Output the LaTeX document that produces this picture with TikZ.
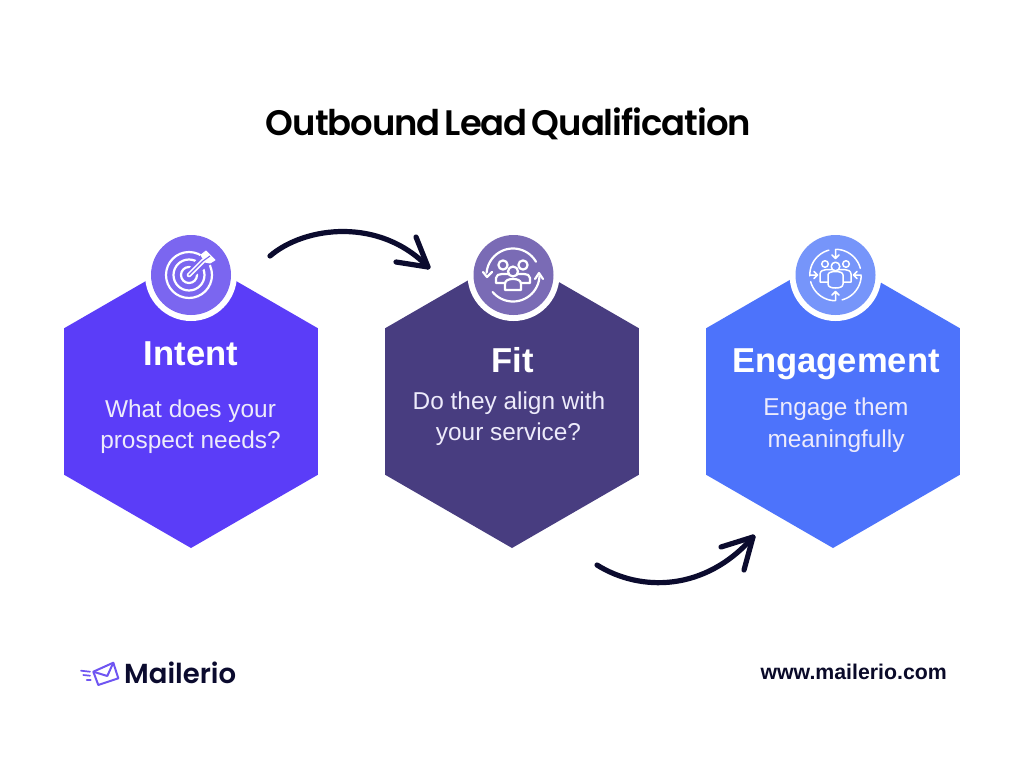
\documentclass[tikz,border=0pt]{standalone}
\usepackage{fontspec}
\usetikzlibrary{shapes.geometric}
\setmainfont{Liberation Sans}
\newfontfamily\titlefont[LetterSpace=-3.0,WordSpace=0.55]{Poppins SemiBold}
\newfontfamily\logofont{Poppins SemiBold}
\definecolor{inkc}{HTML}{0B0B2E}
\definecolor{hexa}{HTML}{5B3DF8}
\definecolor{hexb}{HTML}{483D80}
\definecolor{hexc}{HTML}{4D73FB}
\definecolor{cira}{HTML}{7B66F0}
\definecolor{cirb}{HTML}{7A6BB5}
\definecolor{circ}{HTML}{7695FA}
\definecolor{bodyc}{HTML}{EDEBFB}
\definecolor{logop}{HTML}{6F55F2}
\tikzset{
  x=1pt,y=-1pt,
  hexnode/.style={regular polygon,regular polygon sides=6,shape border rotate=30,minimum size=293pt,inner sep=0pt,outer sep=0pt,draw=none},
  ringnode/.style={circle,fill=white,minimum size=92pt,inner sep=0pt},
  discnode/.style={circle,minimum size=80pt,inner sep=0pt},
  headtext/.style={anchor=base,text=white,font=\fontsize{34.6}{34.6}\selectfont\bfseries,inner sep=0pt},
  bodytext/.style={anchor=base,text=bodyc,font=\fontsize{24.4}{24.4}\selectfont,inner sep=0pt},
  flow/.style={draw=inkc,line width=5.2pt,line cap=round,line join=round},
  iconline/.style={draw=white,line width=2.2pt,line cap=round,line join=round},
  iconthin/.style={draw=white,line width=1.5pt,line cap=round,line join=round},
}
\begin{document}
\begin{tikzpicture}
\useasboundingbox (0,0) rectangle (1024,768);
\fill[white] (0,0) rectangle (1024,768);

\node[anchor=base,inner sep=0pt,text=black] (title) at (508.5,135) {\titlefont\fontsize{35.4}{35.4}\selectfont Outbound Lead Qualification};

% hexagons
\node[hexnode,fill=hexa] (hexA) at (191,401.5) {};
\node[hexnode,fill=hexb] (hexB) at (512,401.5) {};
\node[hexnode,fill=hexc] (hexC) at (833,401.5) {};

% badges
\node[ringnode] (ringA) at (191,275) {};
\node[discnode,fill=cira] (discA) at (191,275) {};
\node[ringnode] (ringB) at (513.5,275) {};
\node[discnode,fill=cirb] (discB) at (513.5,275) {};
\node[ringnode] (ringC) at (835.5,275) {};
\node[discnode,fill=circ] (discC) at (835.5,275) {};

% texts
\node[headtext] (headA) at (191,365) {Intent};
\node[bodytext] (bodyA1) at (190.5,417) {What does your};
\node[bodytext] (bodyA2) at (190.5,448) {prospect needs?};
\node[headtext] (headB) at (512.5,372) {Fit};
\node[bodytext] (bodyB1) at (509,409) {Do they align with};
\node[bodytext] (bodyB2) at (508.5,440) {your service?};
\node[headtext] (headC) at (836,372) {Engagement};
\node[bodytext] (bodyC1) at (836,415) {Engage them};
\node[bodytext] (bodyC2) at (836,447) {meaningfully};

% connectors
\coordinate (arrA) at (270,256);
\coordinate (arrB) at (428,267);
\coordinate (arrBa) at (396,262);
\coordinate (arrBb) at (416,237);
\draw[flow] (arrA) .. controls (305,226) and (380,217) .. (arrB);
\draw[flow] (arrBa) -- (arrB) -- (arrBb);
\coordinate (arrC) at (597,565);
\coordinate (arrD) at (753,537);
\coordinate (arrDa) at (721,547);
\coordinate (arrDb) at (744,570);
\draw[flow] (arrC) .. controls (640,592) and (705,592) .. (arrD);
\draw[flow] (arrDa) -- (arrD) -- (arrDb);

% target icon
\begin{scope}[shift={(189,275)}]
  \draw[iconline] (0,0) circle (23);
  \draw[iconline] (0,0) circle (15.5);
  \draw[iconline] (0,0) circle (8);
  \fill[cira] (-2,-4) -- (11,-19) -- (17,-27) -- (29,-15) -- (19,-9) -- (4,2) -- cycle;
  \draw[iconline,line width=4.6pt] (0,0) -- (14,-14);
  \draw[cira,line width=1.3pt,line cap=round] (0,0) -- (14,-14);
  \fill[white,draw=white,line width=1pt,line join=round] (12,-20) -- (17,-24) -- (21,-20) -- (26,-15) -- (21,-12) -- (16,-13) -- cycle;
  \draw[cira,line width=1.1pt] (14,-14) -- (21,-19);
\end{scope}

% team cycle icon
\begin{scope}[shift={(513,275)}]
  \draw[iconline] plot[domain=30:175,samples=40] ({26.5*cos(\x)},{-26.5*sin(\x)});
  \draw[iconline] plot[domain=-3:-140,samples=40] ({26.5*cos(\x)},{-26.5*sin(\x)});
  \draw[iconline] (-30,-3) -- (-26,2) -- (-21,-3);
  \draw[iconline] (22,4) -- (26,-2) -- (30,4);
  \draw[iconline,fill=cirb] (-10,-10) circle (4.6);
  \draw[iconline,fill=cirb] (10,-10) circle (4.6);
  \draw[iconline,fill=cirb] (-17,8) -- (-17,3) .. controls (-17,0) and (-14,-1) .. (-11,-1) -- (11,-1) .. controls (14,-1) and (17,0) .. (17,3) -- (17,8) -- cycle;
  \draw[iconline,fill=cirb] (0,-3.5) circle (5);
  \draw[iconline,fill=cirb] (-8,15) -- (-8,9) .. controls (-8,5) and (-4,4) .. (0,4) .. controls (4,4) and (8,5) .. (8,9) -- (8,15) -- cycle;
\end{scope}

% engagement icon
\begin{scope}[shift={(835.5,275)}]
  \draw[iconthin] plot[domain=88:15,samples=30] ({25.7*cos(\x)},{-25.7*sin(\x)});
  \draw[iconthin] plot[domain=-2:-75,samples=30] ({25.7*cos(\x)},{-25.7*sin(\x)});
  \draw[iconthin] plot[domain=-92:-165,samples=30] ({25.7*cos(\x)},{-25.7*sin(\x)});
  \draw[iconthin] plot[domain=182:105,samples=30] ({25.7*cos(\x)},{-25.7*sin(\x)});
  % arrow stems
  \draw[iconthin] (0,-25.7) -- (0,-16.5) (-3.5,-20) -- (0,-16.5) -- (3.5,-20);
  \draw[iconthin] (0,25.7) -- (0,16.5) (-3.5,20) -- (0,16.5) -- (3.5,20);
  \draw[iconthin] (-25.7,0) -- (-18,0) (-21.5,-3.5) -- (-18,0) -- (-21.5,3.5);
  \draw[iconthin] (25.7,0) -- (18,0) (21.5,-3.5) -- (18,0) -- (21.5,3.5);
  % people
  \draw[iconthin,fill=circ] (-10.5,-11) circle (3.3);
  \draw[iconthin,fill=circ] (10.5,-11) circle (3.3);
  \draw[iconthin,fill=circ] (-15.5,7) -- (-15.5,-1) .. controls (-15.5,-4) and (-12,-5.5) .. (-9,-5.5) -- (9,-5.5) .. controls (12,-5.5) and (15.5,-4) .. (15.5,-1) -- (15.5,7) -- cycle;
  \draw[iconthin,fill=circ] (0,-8.5) circle (4.3);
  \draw[iconthin,fill=circ] (-7.5,9) -- (-7.5,0) .. controls (-7.5,-2.5) and (-4,-3.5) .. (0,-3.5) .. controls (4,-3.5) and (7.5,-2.5) .. (7.5,0) -- (7.5,9) .. controls (7.5,12) and (4,13) .. (0,13) .. controls (-4,13) and (-7.5,12) .. (-7.5,9) -- cycle;
\end{scope}

% logo
\draw[logop,line width=2pt,line join=round] (93.3,671.7) -- (113.3,662.7) -- (118.3,678.3) -- (98.3,685) -- cycle;
\draw[logop,line width=2pt,line join=round] (93.3,671.7) -- (107.3,676) -- (113.3,662.7);
\draw[logop,line width=1.7pt,line cap=round] (81,670.7) -- (90,671.7) (83.3,675) -- (90,675.7) (86.7,680) -- (90.7,680);
\node[anchor=base west,inner sep=0pt,text=inkc] (logo) at (124,683) {\logofont\fontsize{27.5}{27.5}\selectfont Mailerio};
\node[anchor=base east,inner sep=0pt,text=inkc!90!black] (site) at (947,679) {\fontsize{21.3}{21.3}\selectfont\bfseries www.mailerio.com};
\end{tikzpicture}
\end{document}
